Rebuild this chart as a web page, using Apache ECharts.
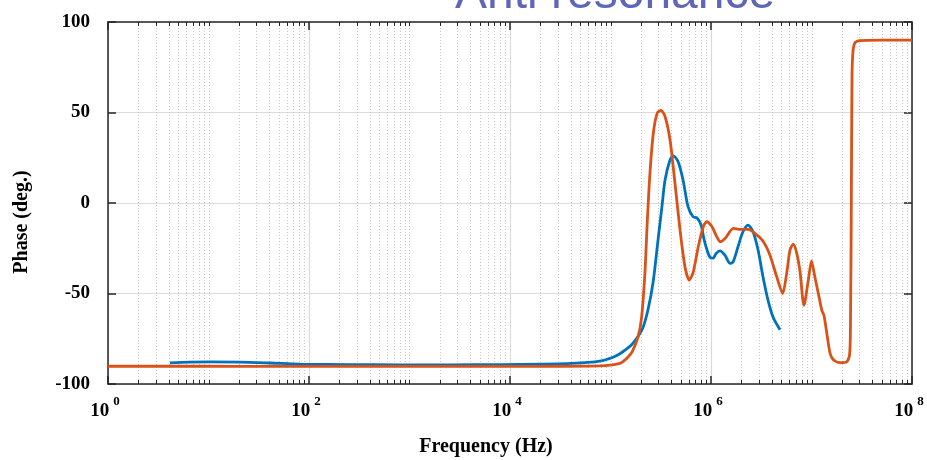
<!DOCTYPE html>
<html><head><meta charset="utf-8">
<script src="https://cdn.jsdelivr.net/npm/echarts@6/dist/echarts.min.js"></script>
<style>html,body{margin:0;padding:0;background:#fff}#c{width:927px;height:460px}</style>
</head><body><div id="c"></div>
<script>
const titleText = 'Anti resonance';
const xName = 'Frequency (Hz)';
const yName = 'Phase (deg.)';
const yTicks = [-100, -50, 0, 50, 100];
const xTickExponents = [0, 2, 4, 6, 8];

const freqBlue = [4.14, 6.5, 10.4, 20.6, 40.9, 81.3, 256, 804, 2530, 7950, 19900, 36900, 55700, 78700,
  106000, 124000, 146000, 164000, 184000, 211000, 236000, 265000, 297000, 325000, 349000, 391000,
  422000, 470000, 527000, 591000, 663000, 726000, 795000, 852000, 913000, 978000, 1.05e6, 1.12e6,
  1.23e6, 1.38e6, 1.55e6, 1.66e6, 1.86e6, 2.08e6, 2.33e6, 2.62e6, 2.94e6, 3.29e6, 3.69e6, 4.14e6, 4.86e6];
const phaseBlue = [-88.3, -87.9, -87.8, -87.9, -88.4, -89.0, -89.3, -89.4, -89.4, -89.3, -89.0, -88.7, -88.2, -87.4,
  -85.2, -83.3, -80.5, -78, -74.5, -68.6, -59, -44, -20.5, -2, 12.7, 23.8,
  26, 22.9, 12.7, -2, -7.6, -8.3, -12, -20, -26, -30, -30.5, -28,
  -26.5, -29, -33.4, -32.5, -24, -15.9, -12.2, -15.9, -26, -40.8, -53.7, -63, -70];

const freqOrange = [1, 8.23, 81.3, 804, 7950, 31400, 78700, 98900, 124000, 133000, 149000, 164000, 188000,
  204000, 220000, 232000, 247000, 267000, 292000, 318000, 349000, 391000, 438000, 492000, 551000,
  608000, 667000, 748000, 840000, 906000, 1.02e6, 1.14e6, 1.23e6, 1.38e6, 1.67e6, 1.95e6, 2.35e6,
  2.74e6, 3.32e6, 3.86e6, 4.51e6, 5.17e6, 5.66e6, 6.11e6, 6.59e6, 7.13e6, 7.69e6, 8.41e6, 9.30e6,
  1.00e7, 1.08e7, 1.17e7, 1.27e7, 1.33e7, 1.42e7, 1.53e7, 1.65e7, 1.92e7, 2.24e7, 2.39e7, 2.44e7,
  2.49e7, 2.53e7, 2.59e7, 2.71e7, 3.04e7, 4.81e7, 1e8];
const phaseOrange = [-90.2, -90.2, -90.3, -90.3, -90.3, -90.2, -90.0, -89.6, -88.6, -87.6, -85.2, -82.3, -74,
  -63, -38.8, -11, 16.6, 38.8, 49.8, 51.1, 47.8, 34.9, 11, -15, -35.3,
  -42.6, -38, -24, -13, -10.3, -13, -18.6, -21.4, -19.6, -14, -14.6, -14.6,
  -16.8, -21.4, -28.8, -40.8, -50, -38.9, -26, -22.7, -27.8, -38, -56.5, -42.6,
  -32, -40.8, -50, -59.5, -62, -72, -83, -86.6, -88.2, -87.8, -84, -70,
  0, 70, 84, 88.6, 89.7, 90, 90];

const minorFreqs = [];
for (let d = 0; d < 8; d++) {
  for (let k = 1; k < 10; k++) {
    if (k === 1 && xTickExponents.indexOf(d) >= 0) continue;
    minorFreqs.push([k * Math.pow(10, d), 0]);
  }
}

const serif = 'Liberation Serif';
const axisColor = '#262626';
const chart = echarts.init(document.getElementById('c'), null, {renderer: 'canvas'});

const xBase = {
  type: 'log', logBase: 10, min: 1, max: 1e8, interval: 2,
  axisLine: {show: true, onZero: false, lineStyle: {color: axisColor, width: 1.5}},
  axisTick: {show: true, inside: true, length: 8, lineStyle: {color: axisColor, width: 1.5}}
};
const yBase = {
  type: 'value', min: -100, max: 100, interval: 50,
  axisLine: {show: true, onZero: false, lineStyle: {color: axisColor, width: 1.5}},
  axisTick: {show: true, inside: true, length: 8, lineStyle: {color: axisColor, width: 1.5}}
};

chart.setOption({
  animation: false,
  backgroundColor: '#fff',
  title: {
    text: titleText, left: 455, top: -29, padding: 0,
    textStyle: {fontFamily: 'Liberation Sans', fontSize: 48, fontWeight: 'normal', color: '#5f66b9'}
  },
  grid: {left: 108, right: 15, top: 22, bottom: 76, containLabel: false, outerBoundsMode: 'none'},
  graphic: [
    {type: 'text', x: 22, y: 222, rotation: Math.PI / 2,
      style: {text: yName, align: 'center', verticalAlign: 'middle', fill: '#000',
        font: 'bold 20px "Liberation Serif"'}},
    {type: 'text', x: 486, y: 447,
      style: {text: xName, align: 'center', verticalAlign: 'middle', fill: '#000',
        font: 'bold 20px "Liberation Serif"'}}
  ],
  xAxis: [
    Object.assign({}, xBase, {
      position: 'bottom',
      splitLine: {show: true, lineStyle: {color: '#dcdcdc', width: 1.2}},
      axisLabel: {
        margin: 11, padding: [0, 6, 0, 0],
        formatter: function (v) { return '{b|10}{s|' + Math.round(Math.log10(v)) + '}'; },
        rich: {
          b: {fontFamily: serif, fontWeight: 'bold', fontSize: 19, lineHeight: 33, color: '#000'},
          s: {fontFamily: serif, fontWeight: 'bold', fontSize: 13, lineHeight: 13, verticalAlign: 'top', padding: [0, 0, 0, 4], color: '#000'}
        }
      }
    }),
    Object.assign({}, xBase, {position: 'top', axisLabel: {show: false}, splitLine: {show: false}})
  ],
  yAxis: [
    Object.assign({}, yBase, {
      position: 'left',
      splitLine: {show: true, lineStyle: {color: '#dcdcdc', width: 1.2}},
      axisLabel: {margin: 18, padding: [0, 0, 11, 0], fontFamily: serif, fontWeight: 'bold', fontSize: 19, color: '#000',
        formatter: function (v) { return yTicks.indexOf(v) >= 0 ? String(v) : ''; }}
    }),
    Object.assign({}, yBase, {position: 'right', axisLabel: {show: false}, splitLine: {show: false}})
  ],
  series: [
    {
      type: 'custom', name: 'minorGrid', xAxisIndex: 0, yAxisIndex: 0, z: 1, silent: true, clip: false,
      data: minorFreqs,
      renderItem: function (params, api) {
        const f = api.value(0);
        const top = api.coord([f, 100]);
        const bot = api.coord([f, -100]);
        const x = Math.round(top[0]) + 0.5;
        return {type: 'group', children: [
          {type: 'line', shape: {x1: x, y1: top[1], x2: x, y2: bot[1]}, style: {stroke: '#c8c8c8', lineWidth: 1, lineDash: [1, 2]}},
          {type: 'line', shape: {x1: x, y1: bot[1], x2: x, y2: bot[1] - 4}, style: {stroke: axisColor, lineWidth: 1}},
          {type: 'line', shape: {x1: x, y1: top[1], x2: x, y2: top[1] + 4}, style: {stroke: axisColor, lineWidth: 1}}
        ]};
      }
    },
    {
      type: 'line', name: 'blue', z: 3, showSymbol: false, smooth: 0.3,
      data: freqBlue.map(function (f, i) { return [f, phaseBlue[i]]; }),
      lineStyle: {color: '#0072BD', width: 2.8}, itemStyle: {color: '#0072BD'}
    },
    {
      type: 'line', name: 'orange', z: 4, showSymbol: false, smooth: 0.25,
      data: freqOrange.map(function (f, i) { return [f, phaseOrange[i]]; }),
      lineStyle: {color: '#D95319', width: 2.8}, itemStyle: {color: '#D95319'}
    }
  ]
});
</script></body></html>
